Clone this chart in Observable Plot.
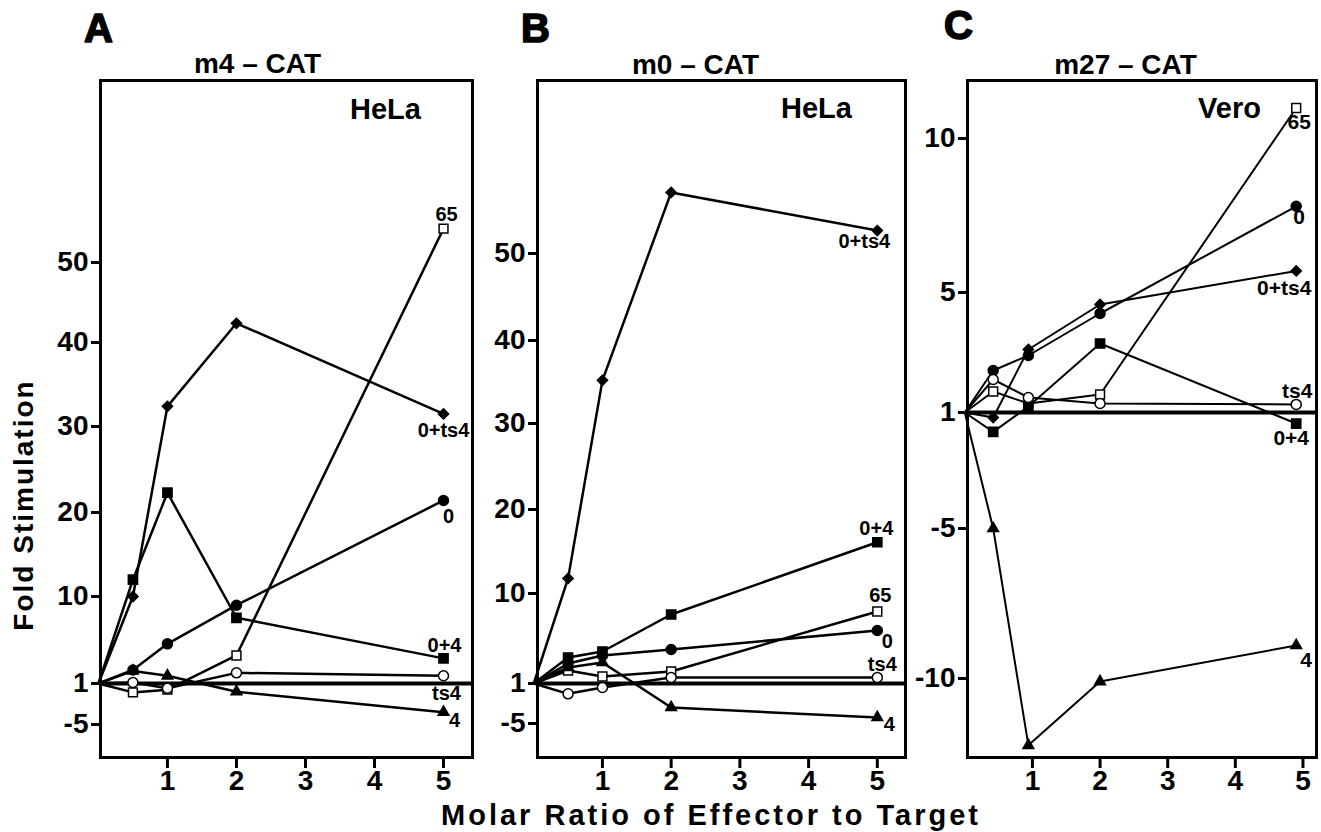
<!DOCTYPE html>
<html><head><meta charset="utf-8">
<script src="https://cdn.jsdelivr.net/npm/d3@7"></script>
<script src="https://cdn.jsdelivr.net/npm/@observablehq/plot@0.6"></script>
<style>
html,body{margin:0;padding:0;background:#fff;}
#root{position:relative;width:1321px;height:832px;overflow:hidden;font-family:"Liberation Sans",Arial,Helvetica,sans-serif;color:#000;}
.panel{position:absolute;top:0;}
.ylab{position:absolute;left:24px;top:505px;transform:translate(-50%,-50%) rotate(-90deg);font-size:28px;font-weight:bold;letter-spacing:2px;white-space:nowrap;line-height:1;}
.xlab{position:absolute;left:711px;top:815px;transform:translate(-50%,-50%);font-size:29px;font-weight:bold;letter-spacing:3px;white-space:nowrap;line-height:1;}
</style></head>
<body>
<div id="root">
  <div class="ylab">Fold Stimulation</div>
  <div class="xlab">Molar Ratio of Effector to Target</div>
</div>
<script>
// ---------- data ----------
const ratiosAB = [0, 0.5, 1, 2, 5];
const ratiosC  = [0, 0.42, 0.94, 2, 4.9];
const seriesNames = ["65", "0", "0+ts4", "0+4", "ts4", "4"];

// Panel A: m4-CAT, HeLa
const A_65   = [1, -0.3, 0.1, 3.9, 54.1];
const A_0    = [1, 2.4, 5.1, 9.1, 21.4];
const A_0ts4 = [1, 10, 32.4, 42.4, 31.5];
const A_04   = [1, 12, 22.3, 7.8, 3.6];
const A_ts4  = [1, 1.1, 0.3, 2.1, 1.8];
const A_4    = [1, 2.3, 1.8, -0.2, -3.2];

// Panel B: m0-CAT, HeLa
const B_65   = [1, 2.3, 1.7, 2.2, 8.2];
const B_0    = [1, 3.0, 3.8, 4.4, 6.3];
const B_0ts4 = [1, 11.8, 35.2, 57.2, 52.7];
const B_04   = [1, 3.6, 4.2, 7.9, 16.1];
const B_ts4  = [1, -0.55, 0.4, 1.6, 1.6];
const B_4    = [1, 2.6, 3.1, -2.6, -4.1];

// Panel C: m27-CAT, Vero
const C_65   = [1, 1.7, 1.3, 1.6, 11.0];
const C_0    = [1, 2.4, 2.9, 4.3, 7.8];
const C_0ts4 = [1, 0.74, 3.1, 4.6, 5.7];
const C_04   = [1, 0.0, 1.2, 3.3, 0.43];
const C_ts4  = [1, 2.1, 1.5, 1.3, 1.27];
const C_4    = [1, -5.0, -12.2, -10.1, -8.9];

const xTicks   = [1, 2, 3, 4, 5];
const yTicksAB = [-5, 1, 10, 20, 30, 40, 50];
const yTicksC  = [-10, -5, 1, 5, 10];

const panelLetters = ["A", "B", "C"];
const promoters    = ["m4 – CAT", "m0 – CAT", "m27 – CAT"];
const cellLines    = ["HeLa", "HeLa", "Vero"];

// ---------- styles / layout ----------
const markerStyle = {
  "65":    {symbol: "square",   fill: "white", r: 5},
  "0":     {symbol: "circle",   fill: "black", r: 5},
  "0+ts4": {symbol: "diamond2", fill: "black", r: 4.6},
  "0+4":   {symbol: "square",   fill: "black", r: 5.2},
  "ts4":   {symbol: "circle",   fill: "white", r: 5},
  "4":     {symbol: "triangle", fill: "black", r: 4}
};

// piecewise axis breakpoints (hand-drawn, uneven spacing in the original figure)
const panels = [
  {
    left: 0, width: 480, marginLeft: 100, marginRight: 8,
    xs: ratiosAB, values: [A_65, A_0, A_0ts4, A_04, A_ts4, A_4],
    xDomain: [0.03, 5.42],
    yBreaks: [-9.8, -5, 1, 10, 20, 30, 40, 50, 72],
    yPos:    [757, 724, 683, 596, 512, 426, 342, 262, 80],
    yTicks: yTicksAB, lineWidth: 2.5, labelSize: 20,
    labelOffsets: {"65": [3, -14], "0": [5, 16], "0+ts4": [0, 17], "0+4": [1, -13], "ts4": [3, 18], "4": [11, 8]},
    letter: [-2, -51], promoter: [157, -16], cell: [285, 29]
  },
  {
    left: 480, width: 430, marginLeft: 57, marginRight: 5,
    xs: ratiosAB, values: [B_65, B_0, B_0ts4, B_04, B_ts4, B_4],
    xDomain: [0.055, 5.41],
    yBreaks: [-10.1, -5, 1, 10, 20, 30, 40, 50, 70.4],
    yPos:    [757, 723, 683, 593, 509, 423, 340, 253, 80],
    yTicks: yTicksAB, lineWidth: 2.5, labelSize: 20,
    labelOffsets: {"65": [3, -16], "0": [10, 11], "0+ts4": [-13, 11], "0+4": [-1, -14], "ts4": [5, -13], "4": [12, 7]},
    letter: [-2, -51], promoter: [158, -15], cell: [279, 28]
  },
  {
    left: 910, width: 411, marginLeft: 57, marginRight: 5,
    xs: ratiosC, values: [C_65, C_0, C_0ts4, C_04, C_ts4, C_4],
    xDomain: [0.04, 5.2],
    yBreaks: [-12.6, -10, -5, 1, 5, 10, 11.9],
    yPos:    [757, 678, 528, 412, 292, 138, 80],
    yTicks: yTicksC, lineWidth: 2, labelSize: 21,
    labelOffsets: {"65": [3, 14], "0": [3, 11], "0+ts4": [-12, 17], "0+4": [-5, 15], "ts4": [1, -13], "4": [10, 15]},
    letter: [-9, -54], promoter: [158, -15], cell: [262, 28]
  }
];

const H = 832, MT = 80, MB = 75;
const fmtY = d => d < 0 ? "-" + (-d) : String(d);
const FONT = "'Liberation Sans', Arial, Helvetica, sans-serif";

function makePanel(p, i) {
  // piecewise-linear warp of the value axis, applied as the y scale's transform
  const warp = d3.scaleLinear().domain(p.yBreaks).range(p.yPos.map(v => H - v));
  const tickPos = p.yTicks.map(t => warp(t));
  const tickLab = new Map(p.yTicks.map((t, k) => [tickPos[k], fmtY(t)]));
  const rows = [];
  seriesNames.forEach((s, k) => p.xs.forEach((x, j) => rows.push({series: s, x, y: p.values[k][j]})));
  const marks = [
    Plot.line(rows, {x: "x", y: "y", z: "series", stroke: "black", strokeWidth: p.lineWidth, strokeLinejoin: "miter"}),
    Plot.ruleY([1], {stroke: "black", strokeWidth: 4}),
    Plot.frame({stroke: "black", strokeWidth: 3})
  ];
  for (const s of seriesNames) {
    const st = markerStyle[s];
    marks.push(Plot.dot(rows.filter(d => d.series === s && d.x > 0), {
      x: "x", y: "y", symbol: st.symbol, r: st.r, fill: st.fill, stroke: "black", strokeWidth: 1.5
    }));
    const last = rows.filter(d => d.series === s).slice(-1);
    const [dx, dy] = p.labelOffsets[s];
    marks.push(Plot.text(last, {
      x: "x", y: "y", text: "series", dx, dy, fontSize: p.labelSize, fontWeight: "bold",
      textAnchor: "middle", lineAnchor: "middle", fill: "black"
    }));
  }
  marks.push(
    Plot.axisY({ticks: tickPos, tickFormat: u => tickLab.get(u), tickSize: 9, tickPadding: 3, fontSize: 28, fontWeight: "bold", strokeWidth: 3, label: null}),
    Plot.axisX({ticks: xTicks, tickFormat: d => String(d), tickSize: 11, tickPadding: 2, fontSize: 28, fontWeight: "bold", strokeWidth: 3, label: null}),
    Plot.text([panelLetters[i]], {frameAnchor: "top-left", lineAnchor: "middle", text: d => d, dx: p.letter[0], dy: p.letter[1], fontSize: 40, fontWeight: "bold", textAnchor: "middle", fill: "black", stroke: "black", strokeWidth: 1.6}),
    Plot.text([promoters[i]], {frameAnchor: "top-left", lineAnchor: "middle", text: d => d, dx: p.promoter[0], dy: p.promoter[1], fontSize: 28, fontWeight: "bold", textAnchor: "middle", fill: "black"}),
    Plot.text([cellLines[i]], {frameAnchor: "top-left", lineAnchor: "middle", text: d => d, dx: p.cell[0], dy: p.cell[1], fontSize: 29, fontWeight: "bold", textAnchor: "middle", fill: "black"})
  );
  const svg = Plot.plot({
    width: p.width, height: H,
    marginTop: MT, marginBottom: MB, marginLeft: p.marginLeft, marginRight: p.marginRight,
    x: {domain: p.xDomain},
    y: {transform: v => warp(v), domain: [MB, H - MT]},
    style: {fontFamily: FONT, background: "transparent", overflow: "visible", color: "black"},
    marks
  });
  const wrap = document.createElement("div");
  wrap.className = "panel";
  wrap.style.left = p.left + "px";
  wrap.appendChild(svg);
  document.getElementById("root").appendChild(wrap);
}
panels.forEach(makePanel);
</script>
</body></html>
